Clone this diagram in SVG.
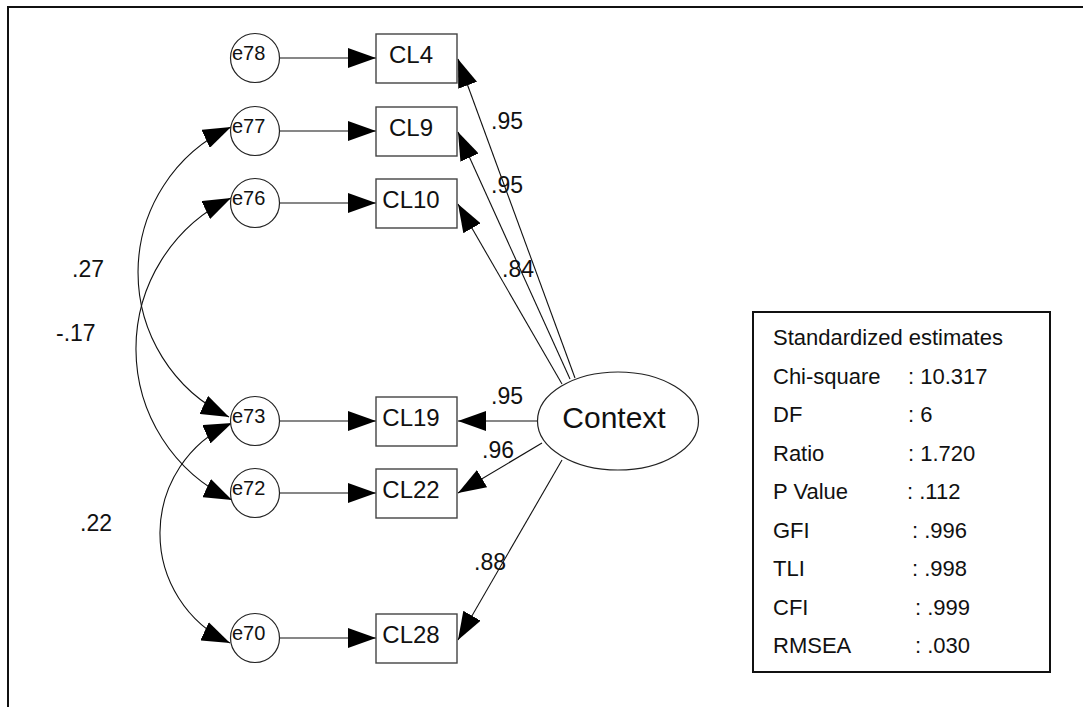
<svg xmlns="http://www.w3.org/2000/svg" width="1083" height="707" viewBox="0 0 1083 707">
  <style>
    text { font-family: "Liberation Sans", Arial, sans-serif; fill: #111; }
    .err { fill: #fff; stroke: #222; stroke-width: 1.2; }
    .obs { fill: #fff; stroke: #444; stroke-width: 1.4; }
    .lat { fill: #fff; stroke: #222; stroke-width: 1.2; }
    .elab { font-size: 20px; }
    .olab { font-size: 24px; text-anchor: middle; }
    .llab { font-size: 30px; text-anchor: middle; }
    .coef { font-size: 23px; }
    .stat { font-size: 22px; }
    .path { fill: none; stroke: #111; stroke-width: 1.1; }
    .arrow { marker-end: url(#head); }
    .cov { marker-start: url(#head); marker-end: url(#head); }
  </style>
  <defs>
    <marker id="head" viewBox="0 0 28 20" markerWidth="28" markerHeight="20" refX="28" refY="10" orient="auto-start-reverse" markerUnits="userSpaceOnUse">
      <path d="M0,0 L28,10 L0,20 Z" fill="#000"/>
    </marker>
  </defs>

  <rect width="1083" height="707" fill="#fff"/>
  <!-- page frame -->
  <path d="M8,707 V7 H1083" fill="none" stroke="#111" stroke-width="2"/>

  <!-- connectors -->
  <g id="connectors">
    <!-- error terms to indicators -->
    <line class="path arrow" x1="280" y1="58" x2="376" y2="58"/>
    <line class="path arrow" x1="280" y1="131" x2="376" y2="131"/>
    <line class="path arrow" x1="280" y1="203" x2="376" y2="203"/>
    <line class="path arrow" x1="280" y1="421" x2="376" y2="421"/>
    <line class="path arrow" x1="280" y1="493" x2="376" y2="493"/>
    <line class="path arrow" x1="280" y1="638" x2="376" y2="638"/>
    <!-- loadings from Context -->
    <line class="path arrow" x1="575" y1="378" x2="458" y2="59"/>
    <line class="path arrow" x1="570" y1="379" x2="458" y2="132"/>
    <line class="path arrow" x1="562" y1="384" x2="458" y2="204"/>
    <line class="path arrow" x1="538" y1="421" x2="458" y2="421"/>
    <line class="path arrow" x1="542" y1="443" x2="458" y2="493"/>
    <line class="path arrow" x1="562" y1="460" x2="458" y2="640"/>
    <!-- covariances -->
    <path class="path cov" d="M231,127 A160.3,160.3 0 0 0 229,417"/>
    <path class="path cov" d="M231,198 A167.1,167.1 0 0 0 232,500"/>
    <path class="path cov" d="M232,423 A120.7,120.7 0 0 0 230,643"/>
  </g>

  <!-- coefficient labels -->
  <g id="coefficients">
    <text class="coef" x="491" y="129">.95</text>
    <text class="coef" x="491" y="193">.95</text>
    <text class="coef" x="502" y="277">.84</text>
    <text class="coef" x="491" y="404">.95</text>
    <text class="coef" x="482" y="458">.96</text>
    <text class="coef" x="474" y="570">.88</text>
    <text class="coef" x="72" y="277">.27</text>
    <text class="coef" x="56" y="341">-.17</text>
    <text class="coef" x="80" y="531">.22</text>
  </g>

  <!-- error terms -->
  <g id="e78"><circle class="err" cx="255" cy="58" r="24.5"/><text class="elab" x="232" y="60">e78</text></g>
  <g id="e77"><circle class="err" cx="255" cy="131" r="24.5"/><text class="elab" x="232" y="133">e77</text></g>
  <g id="e76"><circle class="err" cx="255" cy="203" r="24.5"/><text class="elab" x="232" y="205">e76</text></g>
  <g id="e73"><circle class="err" cx="255" cy="421" r="24.5"/><text class="elab" x="232" y="423">e73</text></g>
  <g id="e72"><circle class="err" cx="255" cy="493" r="24.5"/><text class="elab" x="232" y="495">e72</text></g>
  <g id="e70"><circle class="err" cx="255" cy="638" r="24.5"/><text class="elab" x="232" y="640">e70</text></g>

  <!-- observed indicators -->
  <g id="CL4"><rect class="obs" x="376" y="34" width="81" height="49"/><text class="olab" x="411" y="63">CL4</text></g>
  <g id="CL9"><rect class="obs" x="376" y="107" width="81" height="49"/><text class="olab" x="411" y="136">CL9</text></g>
  <g id="CL10"><rect class="obs" x="376" y="179" width="81" height="49"/><text class="olab" x="411" y="208">CL10</text></g>
  <g id="CL19"><rect class="obs" x="376" y="397" width="81" height="49"/><text class="olab" x="411" y="426">CL19</text></g>
  <g id="CL22"><rect class="obs" x="376" y="469" width="81" height="49"/><text class="olab" x="411" y="498">CL22</text></g>
  <g id="CL28"><rect class="obs" x="376" y="614" width="81" height="49"/><text class="olab" x="411" y="643">CL28</text></g>

  <!-- latent factor -->
  <g id="Context"><ellipse class="lat" cx="618" cy="421" rx="80.5" ry="49"/><text class="llab" x="614" y="428">Context</text></g>

  <!-- fit statistics -->
  <g id="fit-statistics">
    <rect x="753" y="312" width="297" height="360" fill="#fff" stroke="#111" stroke-width="2"/>
    <text class="stat" x="773" y="345">Standardized estimates</text>
    <text class="stat" x="773" y="383.5">Chi-square</text><text class="stat" x="908" y="383.5">: 10.317</text>
    <text class="stat" x="773" y="422">DF</text><text class="stat" x="908" y="422">: 6</text>
    <text class="stat" x="773" y="460.5">Ratio</text><text class="stat" x="908" y="460.5">: 1.720</text>
    <text class="stat" x="773" y="499">P Value</text><text class="stat" x="907" y="499">: .112</text>
    <text class="stat" x="773" y="537.5">GFI</text><text class="stat" x="912" y="537.5">: .996</text>
    <text class="stat" x="773" y="576">TLI</text><text class="stat" x="912" y="576">: .998</text>
    <text class="stat" x="773" y="614.5">CFI</text><text class="stat" x="915" y="614.5">: .999</text>
    <text class="stat" x="773" y="653">RMSEA</text><text class="stat" x="915" y="653">: .030</text>
  </g>
</svg>
